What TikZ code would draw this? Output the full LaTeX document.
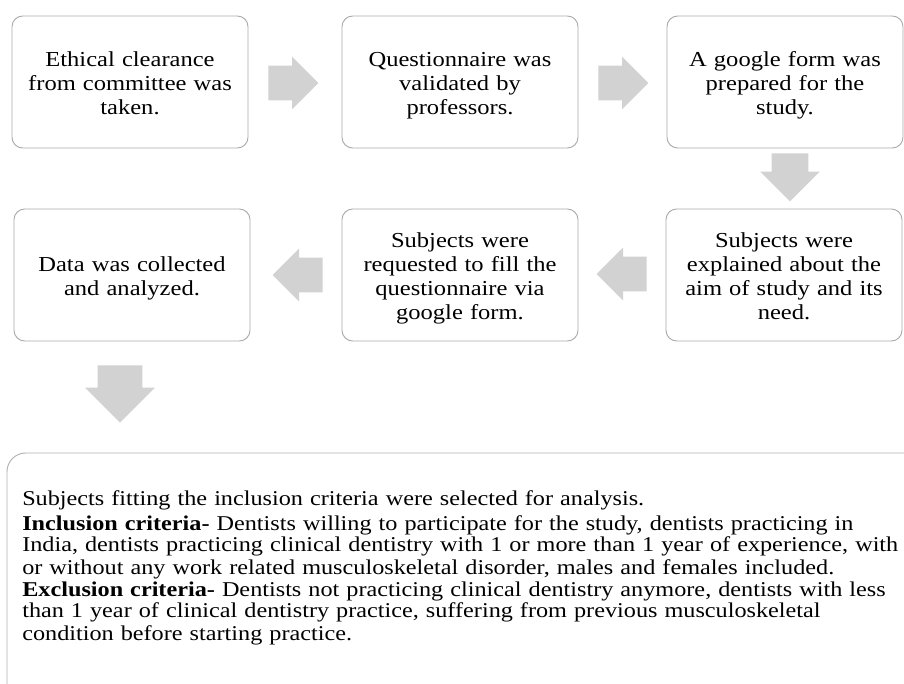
\documentclass[tikz,border=0pt]{standalone}
\usepackage{fontspec}
\setmainfont{Liberation Serif}[FakeStretch=1.15]
\usepackage{tikz}
\usetikzlibrary{shapes.arrows}

\begin{document}
\begin{tikzpicture}[x=0.75pt, y={(0pt,-0.75pt)},
  stepbox/.style={draw=gray!65, line width=0.7pt, rounded corners=8pt, minimum width=177pt, minimum height=99pt, text width=165pt, align=center, inner sep=0pt, font=\fontsize{16}{18}\selectfont, execute at begin node={\rule{0pt}{18.6pt}}, execute at end node=\strut},
  flowarrow/.style={single arrow, fill=gray!35, draw=none, inner xsep=0pt, inner ysep=12.75pt, minimum height=37.5pt, single arrow head extend=6.75pt, anchor=tail}]
  \useasboundingbox (0,0) rectangle (904,684);
  \fill[white] (0,0) rectangle (904,684);
  \node[stepbox] (ethics) at (130,82) {Ethical clearance\\from committee was\\taken.};
  \node[stepbox] (validate) at (460,82) {Questionnaire was\\validated by\\professors.};
  \node[stepbox] (gform) at (785,82) {A google form was\\prepared for the\\study.};
  \node[stepbox] (explain) at (784,275) {Subjects were\\explained about the\\aim of study and its\\need.};
  \node[stepbox] (request) at (460,275) {Subjects were\\requested to fill the\\questionnaire via\\google form.};
  \node[stepbox] (collect) at (132,275) {Data was collected\\and analyzed.};
  \node[flowarrow] (arr1) at (268,83) {};
  \node[flowarrow] (arr2) at (598,83) {};
  \node[flowarrow, rotate=-90, inner ysep=13.5pt, minimum height=36pt, single arrow head extend=8.5pt] (arr3) at (790,153) {};
  \node[flowarrow, rotate=180] (arr4) at (647,274) {};
  \node[flowarrow, rotate=180] (arr5) at (323,275) {};
  \node[flowarrow, rotate=-90, inner ysep=16.5pt, minimum height=43pt, single arrow head extend=9.5pt] (arr6) at (120,365) {};
  \draw[draw=gray!60, line width=0.7pt, rounded corners=14pt] (7,720) -- (7,453) -- (940,453);
  \node[anchor=base west, text width=680pt, align=left, inner sep=0pt, font=\fontsize{15.8}{16.5}\selectfont] (criteria) at (22,505) {Subjects fitting the inclusion criteria were selected for analysis.\\[2.25pt]
  \textbf{Inclusion criteria-} Dentists willing to participate for the study, dentists practicing in\\
  India, dentists practicing clinical dentistry with 1 or more than 1 year of experience, with\\
  or without any work related musculoskeletal disorder, males and females included.\\
  \textbf{Exclusion criteria-} Dentists not practicing clinical dentistry anymore, dentists with less\\
  than 1 year of clinical dentistry practice, suffering from previous musculoskeletal\\
  condition before starting practice.};
\end{tikzpicture}
\end{document}
